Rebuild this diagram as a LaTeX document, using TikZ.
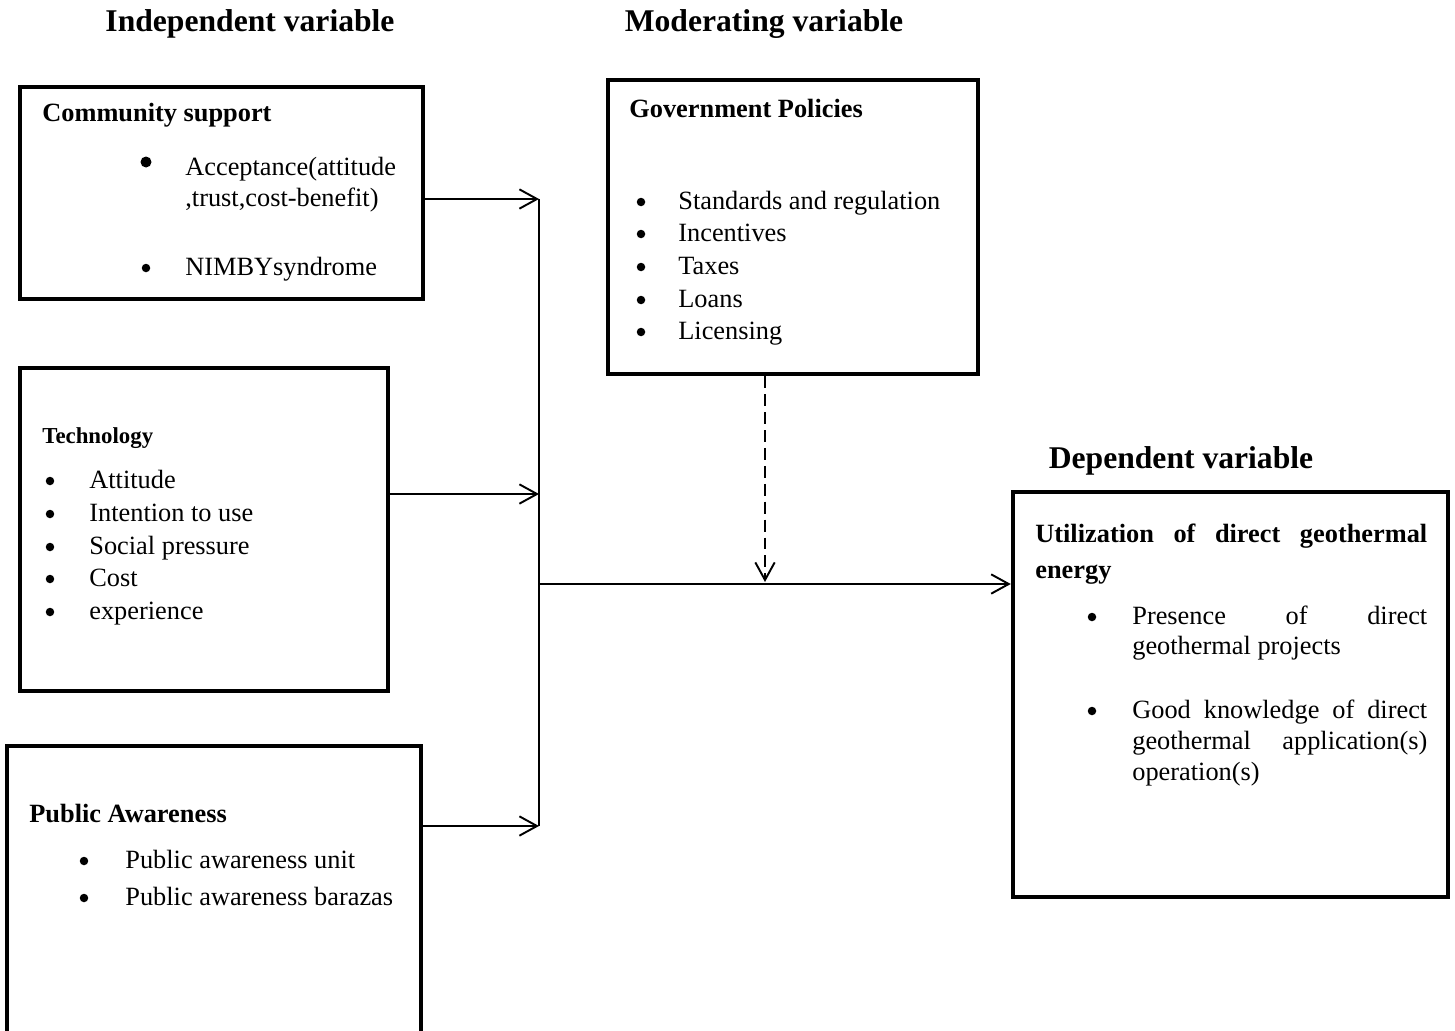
\documentclass[tikz,border=0pt]{standalone}
\usepackage{fontspec}
\setmainfont{Liberation Serif}
\usepackage{tikz}
\usetikzlibrary{arrows.meta}
\newcommand{\bodyfont}{\fontsize{15}{18}\selectfont}

\begin{document}
\begin{tikzpicture}[x=0.02cm, y=-0.02cm,
    box/.style={draw, line width=2.6pt, inner sep=0pt},
    title/.style={inner sep=0pt, font=\fontsize{18}{22}\selectfont\bfseries},
    head/.style={anchor=west, inner sep=0pt, text height=0.9em, text depth=0.1em, font=\bodyfont\bfseries},
    item/.style={anchor=west, inner sep=0pt, text height=0.9em, text depth=0.1em, font=\bodyfont},
    dot/.style={circle, fill, inner sep=0pt, minimum size=0.17cm},
    wire/.style={line width=1.1pt},
    link/.style={line width=1.1pt, -{Straight Barb[length=10pt,width=11pt]}},
    modlink/.style={link, dash pattern=on 6.8pt off 3.4pt}]
    \useasboundingbox (0,0) rectangle (1455,1031);
    \clip (0,0) rectangle (1455,1031);

    %% Titles
    \node[title] (indep) at (250,24) {Independent variable};
    \node[title] (moder) at (764,24) {Moderating variable};
    \node[title] (depen) at (1181,461) {Dependent variable};

    %% Boxes
    \node[box, minimum width=8.06cm, minimum height=4.24cm] (commsupp) at (221.5,193) {};
    \node[box, minimum width=7.36cm, minimum height=6.46cm] (techno) at (204,529.5) {};
    \node[box, minimum width=8.28cm, minimum height=7.08cm] (pubaware) at (214,923) {};
    \node[box, minimum width=7.40cm, minimum height=5.88cm] (govpol) at (793,227) {};
    \node[box, minimum width=8.70cm, minimum height=8.10cm] (util) at (1230.5,694.5) {};

    %% Community support
    \node[head] (cs-h) at (42,114) {Community support};
    \node[dot, minimum size=0.22cm] (cs-d1) at (146,162) {};
    \node[item] (cs-t1) at (185,168) {Acceptance(attitude};
    \node[item] (cs-t2) at (185,199) {,trust,cost-benefit)};
    \node[dot] (cs-d2) at (146,268) {};
    \node[item] (cs-t3) at (185,268) {NIMBYsyndrome};

    %% Technology
    \node[head, font=\fontsize{13}{16}\selectfont\bfseries] (te-h) at (42,436) {Technology};
    \node[dot] (te-d1) at (50,481) {};
    \node[item] (te-t1) at (89,481) {Attitude};
    \node[dot] (te-d2) at (50,514) {};
    \node[item] (te-t2) at (89,514) {Intention to use};
    \node[dot] (te-d3) at (50,547) {};
    \node[item] (te-t3) at (89,547) {Social pressure};
    \node[dot] (te-d4) at (50,579) {};
    \node[item] (te-t4) at (89,579) {Cost};
    \node[dot] (te-d5) at (50,612) {};
    \node[item] (te-t5) at (89,612) {experience};

    %% Public Awareness
    \node[head] (pa-h) at (29,815) {Public Awareness};
    \node[dot] (pa-d1) at (84,861) {};
    \node[item] (pa-t1) at (125,861) {Public awareness unit};
    \node[dot] (pa-d2) at (84,898) {};
    \node[item] (pa-t2) at (125,898) {Public awareness barazas};

    %% Government Policies
    \node[head] (gp-h) at (629,110) {Government Policies};
    \node[dot] (gp-d1) at (641,202) {};
    \node[item] (gp-t1) at (678,202) {Standards and regulation};
    \node[dot] (gp-d2) at (641,234) {};
    \node[item] (gp-t2) at (678,234) {Incentives};
    \node[dot] (gp-d3) at (641,267) {};
    \node[item] (gp-t3) at (678,267) {Taxes};
    \node[dot] (gp-d4) at (641,300) {};
    \node[item] (gp-t4) at (678,300) {Loans};
    \node[dot] (gp-d5) at (641,332) {};
    \node[item] (gp-t5) at (678,332) {Licensing};

    %% Utilization
    \node[head] (ut-h1) at (1035,535) {\makebox[7.84cm][s]{Utilization of direct geothermal}};
    \node[head] (ut-h2) at (1035,571) {energy};
    \node[dot] (ut-d1) at (1092,617) {};
    \node[item] (ut-t1) at (1132,617) {\makebox[5.9cm][s]{Presence of direct}};
    \node[item] (ut-t2) at (1132,647) {geothermal projects};
    \node[dot] (ut-d2) at (1092,711) {};
    \node[item] (ut-t3) at (1132,711) {\makebox[5.9cm][s]{Good knowledge of direct}};
    \node[item] (ut-t4) at (1132,742) {\makebox[5.9cm][s]{geothermal application(s)}};
    \node[item] (ut-t5) at (1132,773) {operation(s)};

    %% Connectors
    \coordinate (in1) at (539,199);
    \coordinate (in2) at (539,494);
    \coordinate (in3) at (539,826);
    \coordinate (out) at (539,584);
    \coordinate (modin) at (765,582);
    \draw[wire] (in1) -- (in3);
    \draw[link] (commsupp.east |- in1) -- (in1);
    \draw[link] (techno.east |- in2) -- (in2);
    \draw[link] (pubaware.east |- in3) -- (in3);
    \draw[link] (out) -- (out -| util.west);
    \draw[modlink] (modin |- govpol.south) -- (modin);

\end{tikzpicture}
\end{document}
